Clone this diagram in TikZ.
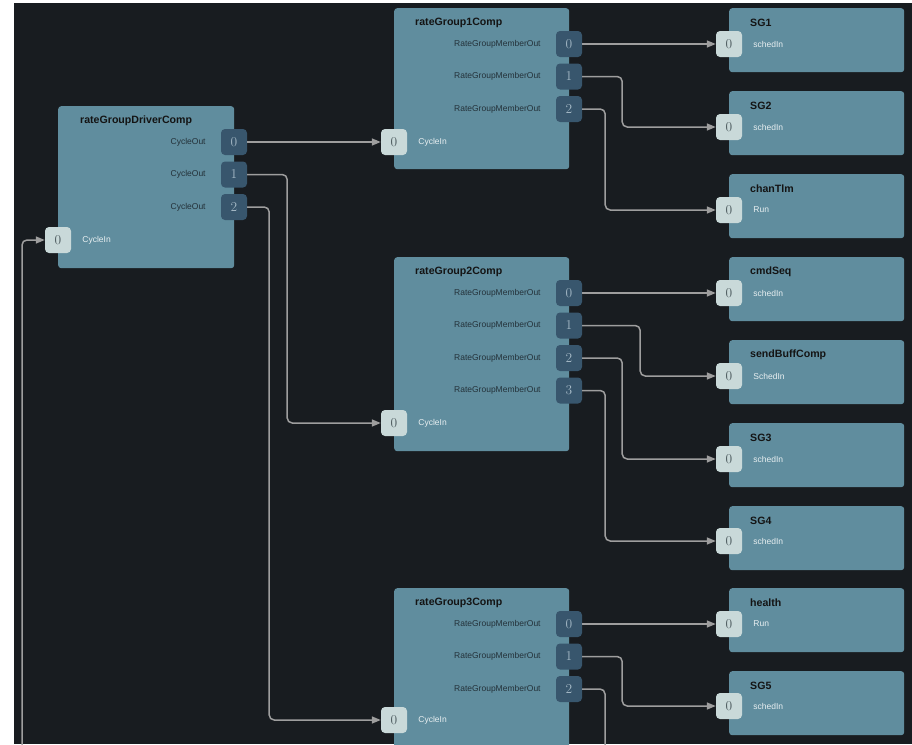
\documentclass[tikz,border=0pt]{standalone}
\usepackage{fontspec}
\setsansfont{Liberation Sans}
\usepackage{tikz}
\usetikzlibrary{calc,arrows.meta,positioning}
\definecolor{canvasDark}{RGB}{24,28,32}
\definecolor{compTeal}{RGB}{96,141,158}
\definecolor{portDark}{RGB}{56,86,109}
\definecolor{portLight}{RGB}{201,217,217}
\definecolor{wireGray}{RGB}{158,158,158}
\definecolor{numLight}{RGB}{165,185,198}
\definecolor{numDark}{RGB}{72,86,90}
\definecolor{lblDark}{RGB}{36,50,58}
\definecolor{lblLight}{RGB}{232,239,241}

\begin{document}
\begin{tikzpicture}[x=1pt,y=-1pt,
    comp/.style={fill=compTeal, rounded corners=3pt, anchor=north west,
        minimum width=175pt, minimum height=161pt, inner sep=0pt},
    leaf/.style={comp, minimum height=64pt},
    compname/.style={anchor=west, inner sep=0pt, text=black!92,
        font=\sffamily\bfseries\fontsize{10.6}{12}\selectfont},
    outport/.style={fill=portDark, rounded corners=4pt, minimum size=26pt,
        inner sep=0pt, text=numLight, font=\fontsize{13.5}{14}\selectfont},
    inport/.style={outport, fill=portLight, text=numDark},
    outlbl/.style={anchor=east, inner sep=0pt, text=lblDark,
        font=\sffamily\fontsize{8.5}{10}\selectfont},
    inlbl/.style={outlbl, anchor=west, text=lblLight},
    wire/.style={draw=wireGray, line width=1.5pt, rounded corners=5pt,
        -{Triangle[length=9pt,width=7pt]}},
    loose/.style={draw=wireGray, line width=1.5pt, rounded corners=5pt}]

    % canvas
    \useasboundingbox (0,0) rectangle (912,744);
    \fill[white] (0,0) rectangle (912,744);
    \fill[canvasDark] (14,3) rectangle (912,744);

    \begin{scope}
    \clip (14,3) rectangle (912,744);

    % driver
    \node[comp, minimum width=176pt, minimum height=162pt] (driver) at (58,106) {};
    \node[compname] (driverName) at ($(driver.north west)+(22,15)$) {rateGroupDriverComp};
    \node[outport] (driverOut0) at (234,142) {0};
    \node[outport] (driverOut1) at (234,174.5) {1};
    \node[outport] (driverOut2) at (234,207) {2};
    \node[inport] (driverIn) at (58,240) {0};
    \node[outlbl] (driverLbl0) at ($(driverOut0.west)+(-15,0)$) {CycleOut};
    \node[outlbl] (driverLbl1) at ($(driverOut1.west)+(-15,0)$) {CycleOut};
    \node[outlbl] (driverLbl2) at ($(driverOut2.west)+(-15,0)$) {CycleOut};
    \node[inlbl] (driverInLbl) at ($(driverIn.east)+(11,0)$) {CycleIn};

    % rate group 1
    \node[comp] (rg1) at (394,8) {};
    \node[compname] (rg1Name) at ($(rg1.north west)+(21,15)$) {rateGroup1Comp};
    \node[outport] (rg1Out0) at (569,44) {0};
    \node[outport] (rg1Out1) at (569,76.5) {1};
    \node[outport] (rg1Out2) at (569,109) {2};
    \node[inport] (rg1In) at (394,142) {0};
    \node[outlbl] (rg1Lbl0) at ($(rg1Out0.west)+(-15,0)$) {RateGroupMemberOut};
    \node[outlbl] (rg1Lbl1) at ($(rg1Out1.west)+(-15,0)$) {RateGroupMemberOut};
    \node[outlbl] (rg1Lbl2) at ($(rg1Out2.west)+(-15,0)$) {RateGroupMemberOut};
    \node[inlbl] (rg1InLbl) at ($(rg1In.east)+(11,0)$) {CycleIn};

    % rate group 2
    \node[comp, minimum height=194pt] (rg2) at (394,257) {};
    \node[compname] (rg2Name) at ($(rg2.north west)+(21,15)$) {rateGroup2Comp};
    \node[outport] (rg2Out0) at (569,293) {0};
    \node[outport] (rg2Out1) at (569,325.5) {1};
    \node[outport] (rg2Out2) at (569,358) {2};
    \node[outport] (rg2Out3) at (569,390.5) {3};
    \node[inport] (rg2In) at (394,423) {0};
    \node[outlbl] (rg2Lbl0) at ($(rg2Out0.west)+(-15,0)$) {RateGroupMemberOut};
    \node[outlbl] (rg2Lbl1) at ($(rg2Out1.west)+(-15,0)$) {RateGroupMemberOut};
    \node[outlbl] (rg2Lbl2) at ($(rg2Out2.west)+(-15,0)$) {RateGroupMemberOut};
    \node[outlbl] (rg2Lbl3) at ($(rg2Out3.west)+(-15,0)$) {RateGroupMemberOut};
    \node[inlbl] (rg2InLbl) at ($(rg2In.east)+(11,0)$) {CycleIn};

    % rate group 3
    \node[comp, minimum height=200pt] (rg3) at (394,588) {};
    \node[compname] (rg3Name) at ($(rg3.north west)+(21,15)$) {rateGroup3Comp};
    \node[outport] (rg3Out0) at (569,624) {0};
    \node[outport] (rg3Out1) at (569,656.5) {1};
    \node[outport] (rg3Out2) at (569,689) {2};
    \node[inport] (rg3In) at (394,720) {0};
    \node[outlbl] (rg3Lbl0) at ($(rg3Out0.west)+(-15,0)$) {RateGroupMemberOut};
    \node[outlbl] (rg3Lbl1) at ($(rg3Out1.west)+(-15,0)$) {RateGroupMemberOut};
    \node[outlbl] (rg3Lbl2) at ($(rg3Out2.west)+(-15,0)$) {RateGroupMemberOut};
    \node[inlbl] (rg3InLbl) at ($(rg3In.east)+(11,0)$) {CycleIn};

    % members
    \node[leaf] (sg1) at (729,8) {};
    \node[compname] (sg1Name) at ($(sg1.north west)+(21,15)$) {SG1};
    \node[inport] (sg1In) at (729,44) {0};
    \node[inlbl] (sg1InLbl) at ($(sg1In.east)+(11,0)$) {schedIn};

    \node[leaf] (sg2) at (729,91) {};
    \node[compname] (sg2Name) at ($(sg2.north west)+(21,15)$) {SG2};
    \node[inport] (sg2In) at (729,127) {0};
    \node[inlbl] (sg2InLbl) at ($(sg2In.east)+(11,0)$) {schedIn};

    \node[leaf] (chanTlm) at (729,174) {};
    \node[compname] (chanTlmName) at ($(chanTlm.north west)+(21,15)$) {chanTlm};
    \node[inport] (chanTlmIn) at (729,210) {0};
    \node[inlbl] (chanTlmInLbl) at ($(chanTlmIn.east)+(11,0)$) {Run};

    \node[leaf] (cmdSeq) at (729,257) {};
    \node[compname] (cmdSeqName) at ($(cmdSeq.north west)+(21,15)$) {cmdSeq};
    \node[inport] (cmdSeqIn) at (729,293) {0};
    \node[inlbl] (cmdSeqInLbl) at ($(cmdSeqIn.east)+(11,0)$) {schedIn};

    \node[leaf] (sendBuff) at (729,340) {};
    \node[compname] (sendBuffName) at ($(sendBuff.north west)+(21,15)$) {sendBuffComp};
    \node[inport] (sendBuffIn) at (729,376) {0};
    \node[inlbl] (sendBuffInLbl) at ($(sendBuffIn.east)+(11,0)$) {SchedIn};

    \node[leaf] (sg3) at (729,423) {};
    \node[compname] (sg3Name) at ($(sg3.north west)+(21,15)$) {SG3};
    \node[inport] (sg3In) at (729,459) {0};
    \node[inlbl] (sg3InLbl) at ($(sg3In.east)+(11,0)$) {schedIn};

    \node[leaf] (sg4) at (729,506) {};
    \node[compname] (sg4Name) at ($(sg4.north west)+(21,15)$) {SG4};
    \node[inport] (sg4In) at (729,541) {0};
    \node[inlbl] (sg4InLbl) at ($(sg4In.east)+(11,0)$) {schedIn};

    \node[leaf] (health) at (729,588) {};
    \node[compname] (healthName) at ($(health.north west)+(21,15)$) {health};
    \node[inport] (healthIn) at (729,624) {0};
    \node[inlbl] (healthInLbl) at ($(healthIn.east)+(11,0)$) {Run};

    \node[leaf] (sg5) at (729,671) {};
    \node[compname] (sg5Name) at ($(sg5.north west)+(21,15)$) {SG5};
    \node[inport] (sg5In) at (729,706) {0};
    \node[inlbl] (sg5InLbl) at ($(sg5In.east)+(11,0)$) {schedIn};

    % free ends below the canvas
    \coordinate (loopStart) at (22,760);
    \coordinate (rg3Exit) at (605,760);

    % wires
    \draw[wire] (loopStart) |- (driverIn.west);
    \draw[wire] (driverOut0.east) -- (rg1In.west);
    \draw[wire] (driverOut1.east) -- ++(40,0) |- (rg2In.west);
    \draw[wire] (driverOut2.east) -- ++(22,0) |- (rg3In.west);

    \draw[wire] (rg1Out0.east) -- (sg1In.west);
    \draw[wire] (rg1Out1.east) -- ++(40,0) |- (sg2In.west);
    \draw[wire] (rg1Out2.east) -- ++(23,0) |- (chanTlmIn.west);

    \draw[wire] (rg2Out0.east) -- (cmdSeqIn.west);
    \draw[wire] (rg2Out1.east) -- ++(58,0) |- (sendBuffIn.west);
    \draw[wire] (rg2Out2.east) -- ++(40,0) |- (sg3In.west);
    \draw[wire] (rg2Out3.east) -- ++(23,0) |- (sg4In.west);

    \draw[wire] (rg3Out0.east) -- (healthIn.west);
    \draw[wire] (rg3Out1.east) -- ++(40,0) |- (sg5In.west);
    \draw[loose] (rg3Out2.east) -| (rg3Exit);
    \end{scope}
\end{tikzpicture}
\end{document}
